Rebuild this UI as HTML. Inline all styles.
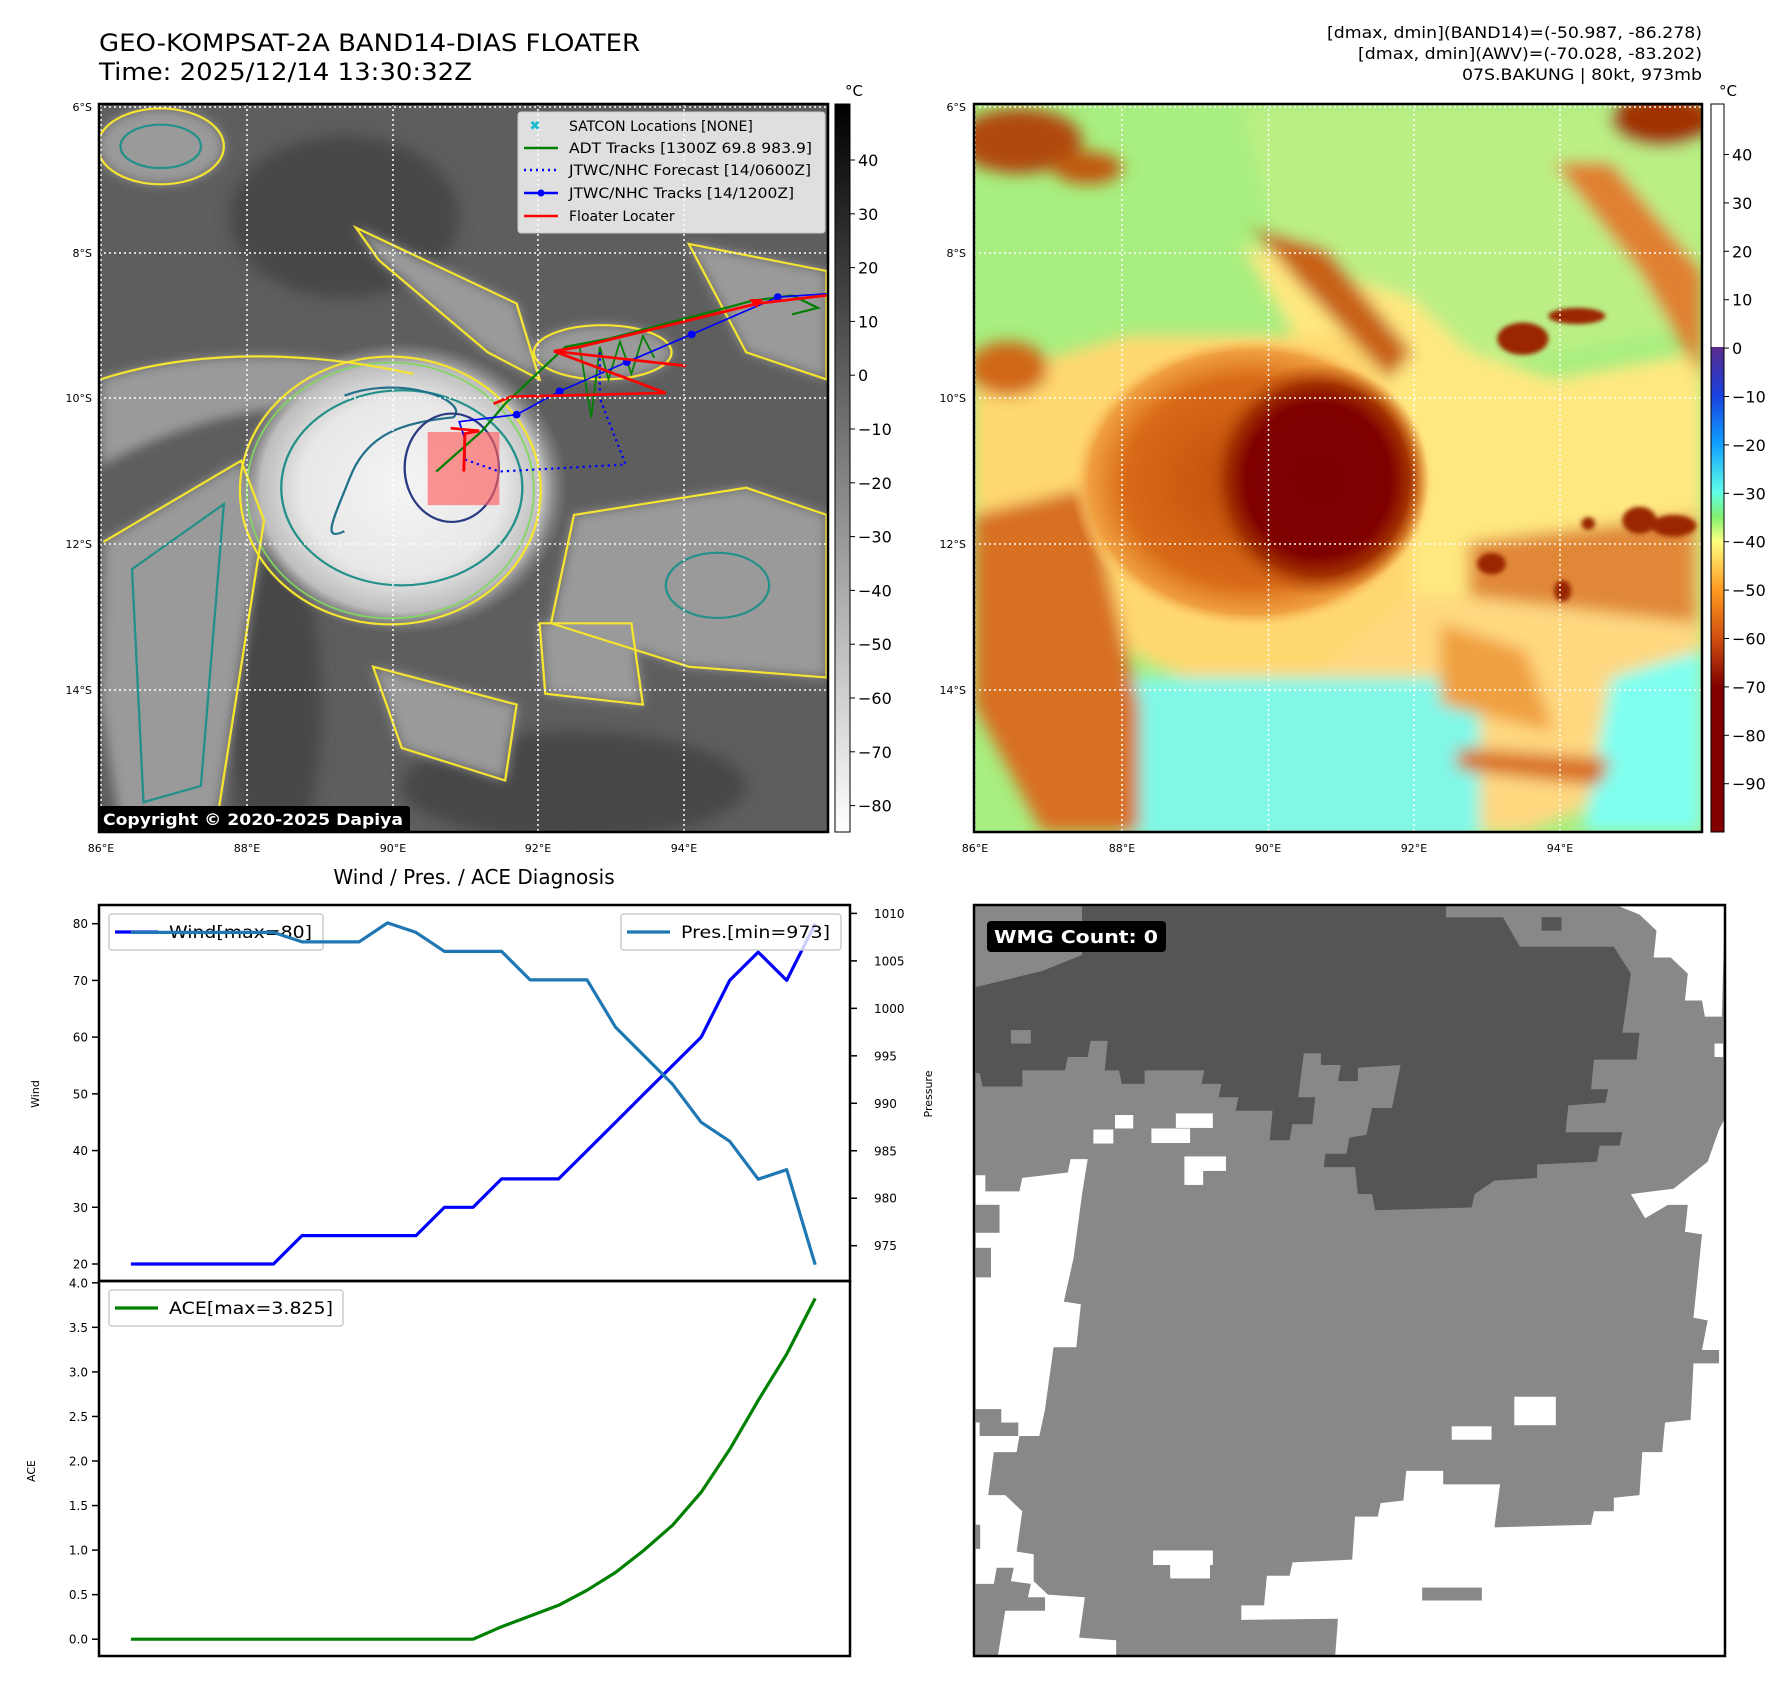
<!DOCTYPE html>
<html><head><meta charset="utf-8">
<style>
html,body{margin:0;padding:0;background:#fff;}
svg{display:block;font-family:"DejaVu Sans","Liberation Sans",sans-serif;}
</style></head>
<body>
<svg id="fig" xmlns="http://www.w3.org/2000/svg" width="1792" height="1693" viewBox="0 0 1792 1693">
<defs>
  <filter id="blur8" x="-20%" y="-20%" width="140%" height="140%"><feGaussianBlur stdDeviation="10"/></filter>
  <filter id="blur14" x="-30%" y="-30%" width="160%" height="160%"><feGaussianBlur stdDeviation="14"/></filter>
  <filter id="blur4"><feGaussianBlur stdDeviation="4"/></filter>
  <radialGradient id="storm" cx="0.5" cy="0.5" r="0.5">
    <stop offset="0" stop-color="#f4f4f4"/><stop offset="0.6" stop-color="#e8e8e8"/><stop offset="0.85" stop-color="#bdbdbd"/><stop offset="1" stop-color="#8a8a8a" stop-opacity="0"/>
  </radialGradient>
  <radialGradient id="redcore" cx="0.5" cy="0.5" r="0.5">
    <stop offset="0" stop-color="#7c0000"/><stop offset="0.65" stop-color="#800000"/><stop offset="0.82" stop-color="#a03000"/><stop offset="1" stop-color="#c05a10" stop-opacity="0"/>
  </radialGradient>
  <radialGradient id="orangedisc" cx="0.5" cy="0.5" r="0.5">
    <stop offset="0" stop-color="#c04a08"/><stop offset="0.7" stop-color="#d86a18"/><stop offset="0.9" stop-color="#f0a040"/><stop offset="1" stop-color="#ffd070" stop-opacity="0"/>
  </radialGradient>
  <linearGradient id="cbGray" x1="0" y1="0" x2="0" y2="1">
    <stop offset="0" stop-color="#000"/><stop offset="1" stop-color="#fff"/>
  </linearGradient>
  <linearGradient id="cbColor" x1="0" y1="0" x2="0" y2="1">
    <stop offset="0" stop-color="#5a2a8a"/>
    <stop offset="0.1" stop-color="#1840e0"/>
    <stop offset="0.2" stop-color="#10a0ff"/>
    <stop offset="0.3" stop-color="#60ffe8"/>
    <stop offset="0.35" stop-color="#80f070"/>
    <stop offset="0.4" stop-color="#ffff80"/>
    <stop offset="0.5" stop-color="#ff9a20"/>
    <stop offset="0.6" stop-color="#d05010"/>
    <stop offset="0.7" stop-color="#800000"/>
    <stop offset="1" stop-color="#800000"/>
  </linearGradient>
  <clipPath id="clipL"><rect x="99" y="104" width="729" height="728"/></clipPath>
  <clipPath id="clipR"><rect x="974" y="104" width="728" height="728"/></clipPath>
  <clipPath id="clipW"><rect x="974" y="905" width="751" height="751"/></clipPath>
</defs>

<!-- Titles -->
<text x="99" y="51" font-size="24" textLength="541" lengthAdjust="spacingAndGlyphs">GEO-KOMPSAT-2A BAND14-DIAS FLOATER</text>
<text x="99" y="80" font-size="24" textLength="373" lengthAdjust="spacingAndGlyphs">Time: 2025/12/14 13:30:32Z</text>
<g font-size="16" text-anchor="end">
  <text x="1702" y="38" textLength="375" lengthAdjust="spacingAndGlyphs">[dmax, dmin](BAND14)=(-50.987, -86.278)</text>
  <text x="1702" y="59" textLength="344" lengthAdjust="spacingAndGlyphs">[dmax, dmin](AWV)=(-70.028, -83.202)</text>
  <text x="1702" y="80" textLength="240" lengthAdjust="spacingAndGlyphs">07S.BAKUNG | 80kt, 973mb</text>
</g>

<!-- LEFT MAP -->
<g clip-path="url(#clipL)">
  <rect x="99" y="104" width="729" height="728" fill="#5e5e5e"/>
  <g transform="scale(0.574,0.542)">
    <g filter="url(#blur14)" fill="#474747">
      <ellipse cx="600" cy="400" rx="200" ry="150"/>
      <ellipse cx="1000" cy="1450" rx="300" ry="100"/>
      <ellipse cx="480" cy="1300" rx="80" ry="300"/>
    </g>
    <g id="cloudShapes" filter="url(#blur8)" fill="#9a9a9a">
      <path d="M180,1000 L420,850 L460,960 L380,1500 L210,1530 L175,1300Z"/>
      <path d="M175,700 C350,640 550,650 720,690 L700,760 C520,730 350,760 175,860Z"/>
      <ellipse cx="280" cy="270" rx="110" ry="70"/>
      <path d="M1000,950 L1300,900 L1440,950 L1440,1250 L1200,1230 L960,1150Z"/>
      <path d="M1200,450 L1440,500 L1440,700 L1300,650Z"/>
      <path d="M620,420 L900,560 L940,700 L850,650 L660,480Z"/>
      <ellipse cx="1050" cy="650" rx="120" ry="50"/>
      <path d="M940,1150 L1100,1150 L1120,1300 L950,1280Z"/>
      <path d="M650,1230 L900,1300 L880,1440 L700,1380Z"/>
    </g>
    <ellipse cx="700" cy="900" rx="290" ry="270" fill="url(#storm)"/>
    <g fill="none" stroke-width="4">
      <ellipse cx="680" cy="905" rx="262" ry="247" stroke="#f5e430"/>
      <ellipse cx="680" cy="905" rx="250" ry="236" stroke="#80d860" stroke-width="3"/>
      <ellipse cx="700" cy="900" rx="210" ry="180" stroke="#23908a"/>
      <path d="M600,730 C700,690 820,740 790,770 C700,780 640,800 610,880 C580,960 560,1000 600,980" stroke="#23708a"/>
      <ellipse cx="787" cy="863" rx="82" ry="100" stroke="#2a3a80"/>
      <path d="M180,1000 L420,850 L460,960 L380,1500 L210,1530" stroke="#f5e430"/>
      <path d="M230,1050 L390,930 L350,1450 L250,1480Z" stroke="#23908a"/>
      <path d="M175,700 C350,640 550,650 720,690" stroke="#f5e430"/>
      <ellipse cx="280" cy="270" rx="110" ry="70" stroke="#f5e430"/>
      <ellipse cx="280" cy="270" rx="70" ry="40" stroke="#23908a"/>
      <path d="M1000,950 L1300,900 L1440,950 L1440,1250 L1200,1230 L960,1150Z" stroke="#f5e430"/>
      <ellipse cx="1250" cy="1080" rx="90" ry="60" stroke="#23908a"/>
      <path d="M1200,450 L1440,500 L1440,700 L1300,650Z" stroke="#f5e430"/>
      <path d="M620,420 L900,560 L940,700 L850,650 L660,480Z" stroke="#f5e430"/>
      <ellipse cx="1050" cy="650" rx="120" ry="50" stroke="#f5e430"/>
      <path d="M940,1150 L1100,1150 L1120,1300 L950,1280Z" stroke="#f5e430"/>
      <path d="M650,1230 L900,1300 L880,1440 L700,1380Z" stroke="#f5e430"/>
    </g>
    <rect x="745" y="797" width="125" height="135" fill="#ff6060" fill-opacity="0.65"/>
    <!-- tracks -->
    <polyline fill="none" stroke="#008000" stroke-width="4" points="760,870 840,795 880,745 940,685 985,640 1060,625 1240,575 1310,555 1380,545 1425,568 1380,580"/>
    <polyline fill="none" stroke="#008000" stroke-width="3" points="1010,640 1030,770 1045,640 1060,700 1080,630 1100,690 1120,620 1140,660"/>
    <polyline fill="none" stroke="#0000ff" stroke-width="4" stroke-dasharray="4,7" points="810,848 870,870 1090,857 1045,735 1045,650"/>
    <polyline fill="none" stroke="#0000ff" stroke-width="3" points="1440,542 1355,548 1205,617 1092,668 975,722 900,765 800,778 810,810 810,848"/>
    <g fill="#0000ff"><circle cx="1355" cy="548" r="7"/><circle cx="1205" cy="617" r="7"/><circle cx="1092" cy="668" r="7"/><circle cx="975" cy="722" r="7"/><circle cx="900" cy="765" r="7"/></g>
    <g fill="none" stroke="#ff0000" stroke-width="5">
      <polyline points="1440,545 1320,560 1010,640 965,648 1195,675"/>
      <polyline points="965,648 1160,725 890,732 860,745"/>
      <polyline points="785,790 835,795 810,800 808,870"/>
    </g>
    <polygon points="1305,552 1330,552 1318,568" fill="#ff0000"/>
  </g>
  <g stroke="#fff" stroke-width="1.5" stroke-dasharray="2,3">
    <line x1="99" y1="107" x2="828" y2="107"/><line x1="99" y1="253" x2="828" y2="253"/><line x1="99" y1="398" x2="828" y2="398"/><line x1="99" y1="544" x2="828" y2="544"/><line x1="99" y1="690" x2="828" y2="690"/>
    <line x1="101" y1="104" x2="101" y2="832"/><line x1="247" y1="104" x2="247" y2="832"/><line x1="393" y1="104" x2="393" y2="832"/><line x1="538" y1="104" x2="538" y2="832"/><line x1="684" y1="104" x2="684" y2="832"/>
  </g>
</g>
<rect x="99" y="104" width="729" height="728" fill="none" stroke="#000" stroke-width="2.5"/>
<g>
  <rect x="518" y="112" width="307" height="121" fill="#fff" fill-opacity="0.8" stroke="#ccc" rx="3"/>
  <g font-size="14">
    <text x="535" y="130" fill="#17becf" font-size="13" text-anchor="middle">✖</text>
    <text x="569" y="131">SATCON Locations [NONE]</text>
    <line x1="524" y1="148" x2="558" y2="148" stroke="#008000" stroke-width="2.5"/>
    <text x="569" y="153" textLength="243" lengthAdjust="spacingAndGlyphs">ADT Tracks [1300Z 69.8 983.9]</text>
    <line x1="524" y1="170" x2="558" y2="170" stroke="#0000ff" stroke-width="2.5" stroke-dasharray="2,4"/>
    <text x="569" y="175" textLength="242" lengthAdjust="spacingAndGlyphs">JTWC/NHC Forecast [14/0600Z]</text>
    <line x1="524" y1="193" x2="558" y2="193" stroke="#0000ff" stroke-width="2.5"/><circle cx="541" cy="193" r="3.5" fill="#0000ff"/>
    <text x="569" y="198" textLength="225" lengthAdjust="spacingAndGlyphs">JTWC/NHC Tracks [14/1200Z]</text>
    <line x1="524" y1="216" x2="558" y2="216" stroke="#ff0000" stroke-width="2.5"/>
    <text x="569" y="221">Floater Locater</text>
  </g>
</g>
<g>
  <rect x="98" y="806" width="312" height="27" rx="3" fill="#000"/>
  <text x="103" y="825" font-size="16" font-weight="bold" fill="#fff" textLength="300" lengthAdjust="spacingAndGlyphs">Copyright © 2020-2025 Dapiya</text>
</g>
<g font-size="11" fill="#000">
  <g text-anchor="end"><text x="92" y="111">6°S</text><text x="92" y="257">8°S</text><text x="92" y="402">10°S</text><text x="92" y="548">12°S</text><text x="92" y="694">14°S</text></g>
  <g text-anchor="middle"><text x="101" y="852">86°E</text><text x="247" y="852">88°E</text><text x="393" y="852">90°E</text><text x="538" y="852">92°E</text><text x="684" y="852">94°E</text></g>
</g>
<g>
  <rect x="835" y="104" width="15" height="728" fill="url(#cbGray)" stroke="#000" stroke-width="1"/>
  <text x="845" y="96" font-size="15">°C</text>
  <g id="cbLticks" font-size="16"></g>
</g>

<!-- RIGHT MAP -->
<g clip-path="url(#clipR)">
  <rect x="974" y="104" width="728" height="728" fill="#a8ee80"/>
  <g transform="translate(900,0) scale(0.5688,0.542)">
    <g filter="url(#blur14)">
      <path d="M130,200 L600,200 L700,600 L900,700 L1410,600 L1410,200 Z" fill="#c8f088" opacity="0.6"/>
      <path d="M600,450 L900,550 L1000,650 L1150,700 L1410,650 L1410,1300 L1200,1250 L900,1200 L850,900 Z" fill="#ffe880"/>
      <path d="M130,700 L400,620 L800,620 L900,800 L900,1200 L700,1300 L500,1250 L400,1200 L130,1100Z" fill="#ffd870"/>
      <path d="M900,1100 L1410,1100 L1410,1300 L1300,1450 L1100,1535 L700,1535 L600,1350Z" fill="#ffd880"/>
      <rect x="400" y="1250" width="620" height="300" fill="#80f8e8"/>
      <path d="M1250,1250 L1410,1200 L1410,1535 L1200,1535Z" fill="#80fff0"/>
      <path d="M130,950 L330,900 L420,1300 L420,1535 L250,1535 L130,1300Z" fill="#d87020"/>
      <path d="M620,420 L750,460 L900,650 L860,700 L700,520Z" fill="#c86018"/>
      <ellipse cx="210" cy="260" rx="110" ry="60" fill="#b04808"/>
      <ellipse cx="330" cy="310" rx="60" ry="30" fill="#c05a10"/>
      <path d="M1150,300 L1300,500 L1410,700 L1410,500 L1250,300Z" fill="#e08030"/>
      <ellipse cx="1340" cy="220" rx="90" ry="50" fill="#a03000"/>
      <path d="M1000,1000 L1400,950 L1400,1150 L1000,1100Z" fill="#e08838"/>
      <ellipse cx="190" cy="680" rx="70" ry="50" fill="#d06818"/>
      <path d="M950,1150 L1100,1200 L1150,1350 L950,1300Z" fill="#f0a040"/>
      <path d="M980,1380 L1250,1400 L1230,1450 L980,1420Z" fill="#d87020"/>
    </g>
    <ellipse cx="620" cy="890" rx="320" ry="270" fill="url(#orangedisc)"/>
    <ellipse cx="735" cy="885" rx="195" ry="215" fill="url(#redcore)"/>
    <g fill="#9a2800" filter="url(#blur4)">
      <ellipse cx="1095" cy="625" rx="45" ry="30"/><ellipse cx="1190" cy="583" rx="50" ry="15"/>
      <ellipse cx="1300" cy="960" rx="30" ry="25"/><ellipse cx="1210" cy="966" rx="12" ry="12"/>
      <ellipse cx="1165" cy="1090" rx="15" ry="20"/><ellipse cx="1040" cy="1040" rx="25" ry="20"/>
      <ellipse cx="1360" cy="970" rx="40" ry="20"/>
    </g>
  </g>
  <g stroke="#fff" stroke-width="1.5" stroke-dasharray="2,3">
    <line x1="974" y1="107" x2="1702" y2="107"/><line x1="974" y1="253" x2="1702" y2="253"/><line x1="974" y1="398" x2="1702" y2="398"/><line x1="974" y1="544" x2="1702" y2="544"/><line x1="974" y1="690" x2="1702" y2="690"/>
    <line x1="975" y1="104" x2="975" y2="832"/><line x1="1122" y1="104" x2="1122" y2="832"/><line x1="1268.5" y1="104" x2="1268.5" y2="832"/><line x1="1414" y1="104" x2="1414" y2="832"/><line x1="1560" y1="104" x2="1560" y2="832"/>
  </g>
</g>
<rect x="974" y="104" width="728" height="728" fill="none" stroke="#000" stroke-width="2.5"/>
<g font-size="11" fill="#000">
  <g text-anchor="end"><text x="966" y="111">6°S</text><text x="966" y="257">8°S</text><text x="966" y="402">10°S</text><text x="966" y="548">12°S</text><text x="966" y="694">14°S</text></g>
  <g text-anchor="middle"><text x="975" y="852">86°E</text><text x="1122" y="852">88°E</text><text x="1268" y="852">90°E</text><text x="1414" y="852">92°E</text><text x="1560" y="852">94°E</text></g>
</g>
<g>
  <rect x="1711" y="104" width="13" height="243" fill="#fff"/>
  <rect x="1711" y="347" width="13" height="485" fill="url(#cbColor)"/>
  <rect x="1711" y="104" width="13" height="728" fill="none" stroke="#000" stroke-width="1"/>
  <text x="1719" y="96" font-size="15">°C</text>
  <g id="cbRticks" font-size="16"></g>
</g>

<!-- WIND / PRES / ACE -->
<text x="474" y="884" font-size="20" text-anchor="middle">Wind / Pres. / ACE Diagnosis</text>
<g id="diag"></g>

<!-- WMG panel -->
<g clip-path="url(#clipW)">
  <rect x="974" y="905" width="751" height="751" fill="#888"/>
  <g transform="translate(900,850) scale(0.5688,0.5376)">
    <path fill="#555" d="M133,255 L250,225 L320,195 L320,105 L960,105 L960,125 L1060,125 L1090,180 L1255,180 L1285,230 L1270,340 L1300,340 L1295,390 L1220,390 L1215,445 L1245,445 L1240,470 L1175,475 L1170,525 L1270,525 L1265,550 L1230,550 L1225,580 L1120,585 L1120,610 L1045,615 L1010,640 L1005,665 L835,670 L830,640 L805,640 L800,590 L745,590 L748,565 L785,565 L790,535 L820,530 L830,480 L865,480 L880,400 L805,405 L805,430 L770,430 L775,400 L740,400 L740,378 L710,378 L700,460 L730,460 L725,510 L690,510 L685,540 L650,540 L655,485 L590,485 L595,460 L560,460 L565,435 L530,435 L535,410 L430,410 L430,435 L390,435 L385,410 L360,410 L365,355 L335,355 L330,385 L295,385 L290,410 L215,410 L215,440 L145,440 L140,415 L133,415Z"/>
    <rect x="195" y="335" width="35" height="25" fill="#888"/>
    <rect x="1128" y="125" width="35" height="25" fill="#555"/>
    <g fill="#fff">
      <path d="M1265,105 L1300,120 L1330,150 L1325,200 L1355,200 L1385,230 L1380,280 L1410,280 L1415,310 L1445,310 L1450,105Z"/>
      <path d="M1450,500 L1440,520 L1420,580 L1360,630 L1285,640 L1310,685 L1350,660 L1385,660 L1380,710 L1410,715 L1395,870 L1420,875 L1410,930 L1440,930 L1440,955 L1395,955 L1390,1060 L1345,1065 L1340,1120 L1305,1120 L1300,1200 L1255,1205 L1255,1230 L1220,1230 L1215,1255 L1045,1260 L1055,1180 L955,1180 L955,1155 L890,1155 L885,1210 L845,1215 L840,1240 L800,1240 L795,1320 L690,1325 L685,1350 L645,1350 L640,1405 L600,1405 L600,1432 L770,1430 L765,1500 L1452,1500 L1452,500Z"/>
      <path d="M133,605 L150,605 L150,635 L210,635 L215,610 L295,600 L300,575 L330,575 L320,640 L305,760 L288,840 L318,845 L310,925 L270,925 L255,1040 L245,1090 L210,1090 L205,1120 L165,1120 L155,1200 L185,1200 L215,1230 L205,1305 L235,1310 L235,1360 L260,1385 L325,1390 L315,1465 L380,1470 L380,1500 L133,1500Z"/>
      <rect x="340" y="520" width="35" height="26"/><rect x="378" y="493" width="32" height="25"/>
      <rect x="442" y="518" width="68" height="27"/><rect x="485" y="490" width="65" height="27"/>
      <rect x="500" y="570" width="73" height="27"/><rect x="500" y="595" width="33" height="28"/>
      <rect x="1080" y="1017" width="73" height="53"/><rect x="970" y="1072" width="70" height="25"/>
      <rect x="445" y="1303" width="105" height="27"/><rect x="475" y="1328" width="70" height="27"/>
      <rect x="1432" y="360" width="15" height="25"/>
    </g>
    <g fill="#888">
      <rect x="133" y="660" width="42" height="52"/><rect x="133" y="740" width="27" height="55"/>
      <rect x="133" y="1040" width="45" height="25"/><rect x="140" y="1065" width="68" height="25"/>
      <rect x="133" y="1255" width="8" height="45"/>
      <path d="M133,1365 L165,1365 L170,1335 L200,1335 L195,1360 L230,1365 L225,1390 L255,1390 L255,1415 L185,1415 L172,1500 L133,1500Z"/>
      <rect x="918" y="1372" width="105" height="24"/>
    </g>
  </g>
</g>
<rect x="974" y="905" width="751" height="751" fill="none" stroke="#000" stroke-width="2.5"/>
<g>
  <rect x="987" y="921" width="179" height="31" rx="4" fill="#000"/>
  <text x="994" y="943" font-size="18" font-weight="bold" fill="#fff" textLength="164" lengthAdjust="spacingAndGlyphs">WMG Count: 0</text>
</g>

<script>
// ---- Diagnosis chart data ----
const steps = [0,1,2,3,4,5,6,7,8,9,10,11,12,13,14,15,16,17,18,19,20,21,22,23,24];
const winds = [20,20,20,20,20,20,25,25,25,25,25,30,30,35,35,35,40,45,50,55,60,70,75,70,80];
const pressures = [1008,1008,1008,1008,1008,1008,1007,1007,1007,1009,1008,1006,1006,1006,1003,1003,1003,998,995,992,988,986,982,983,973];
const aces = [0,0,0,0,0,0,0,0,0,0,0,0,0,0.14,0.26,0.38,0.55,0.75,1.0,1.28,1.65,2.13,2.68,3.2,3.825];
const windTicks = [20,30,40,50,60,70,80];
const presTicks = [975,980,985,990,995,1000,1005,1010];
const aceTicks = [0,0.5,1,1.5,2,2.5,3,3.5,4];
const grayTicks = [40,30,20,10,0,-10,-20,-30,-40,-50,-60,-70,-80];
const colorTicks = [40,30,20,10,0,-10,-20,-30,-40,-50,-60,-70,-80,-90];

const NS = 'http://www.w3.org/2000/svg';
function mk(tag, attrs, parent){ const e=document.createElementNS(NS,tag); for(const k in attrs) e.setAttribute(k,attrs[k]); parent.appendChild(e); return e; }
function fmt(v){ return (v<0?'\u2212':'')+Math.abs(v); }

const xs = i => 130.9 + i*(815.2-130.9)/(steps.length-1);
const yW = v => 1264 - (v-20)*(1264-923.7)/60;
const yP = v => 1245.7 - (v-975)*(1245.7-913.4)/35;
const yA = v => 1639.2 - v*(1639.2-1282.8)/4;
const yG = v => 160 + (40-v)*5.38;
const yC = v => 154.5 + (40-v)*4.84;

const diag = document.getElementById('diag');
const f1 = mk('rect',{x:99,y:905,width:751,height:376,fill:'none',stroke:'#000','stroke-width':2.5},diag);


const f2 = mk('rect',{x:99,y:1281,width:751,height:375,fill:'none',stroke:'#000','stroke-width':2.5},diag);



function tickL(v, y, label, name){
  mk('line',{x1:92,y1:y,x2:99,y2:y,stroke:'#000','stroke-width':1.5},diag);
  const t = mk('text',{x:88,y:y+4.5,'font-size':12,'text-anchor':'end'},diag);
  
  
  t.textContent = label;
}
windTicks.forEach(v=>tickL(v,yW(v),String(v),'wind-tick-label'));
aceTicks.forEach(v=>tickL(v,yA(v),v.toFixed(1),'ace-tick-label'));
presTicks.forEach(v=>{
  const y=yP(v);
  mk('line',{x1:850,y1:y,x2:857,y2:y,stroke:'#000','stroke-width':1.5},diag);
  const t=mk('text',{x:874,y:y+4.5,'font-size':12},diag);
  
  
  t.textContent=String(v);
});
function vlabel(x,y,s,name){
  const t=mk('text',{x:x,y:y,'font-size':11,'text-anchor':'middle',transform:`rotate(-90 ${x} ${y})`},diag);
  
  
  t.textContent=s;
}
vlabel(39,1094,'Wind','wind-axis-title');
vlabel(35,1471,'ACE','ace-axis-title');
vlabel(932,1094,'Pressure','pressure-axis-title');

function line(arr, yf, color, name){
  const pts = arr.map((v,i)=>xs(i).toFixed(1)+','+yf(v).toFixed(1)).join(' ');
  const p = mk('polyline',{points:pts,fill:'none',stroke:color,'stroke-width':3.2,'stroke-linejoin':'round'},diag);
  
  
}
function legend(x,y,w,color,label,name,tl){
  const g = mk('g',{},diag);
  
  
  mk('rect',{x:x,y:y,width:w,height:36,rx:3,fill:'#fff','fill-opacity':0.8,stroke:'#ccc','stroke-width':1.5},g);
  mk('line',{x1:x+6,y1:y+18,x2:x+49,y2:y+18,stroke:color,'stroke-width':3.2},g);
  const t=mk('text',{x:x+60,y:y+24,'font-size':17,textLength:tl,lengthAdjust:'spacingAndGlyphs'},g);
  t.textContent=label;
}
line(winds,yW,'#0000ff','wind-line');
legend(109,914,214,'#0000ff','Wind[max=80]','wind-legend',143);
line(pressures,yP,'#1f77b4','pressure-line');
legend(621,914,220,'#1f77b4','Pres.[min=973]','pressure-legend',149);
line(aces,yA,'#008000','ace-line');
legend(109,1290,234,'#008000','ACE[max=3.825]','ace-legend',164);

const gL = document.getElementById('cbLticks');
grayTicks.forEach(v=>{
  const y=yG(v);
  mk('line',{x1:850,y1:y,x2:855,y2:y,stroke:'#000'},gL);
  const t=mk('text',{x:858,y:y+6},gL);
  
  
  t.textContent=fmt(v);
});
const gR = document.getElementById('cbRticks');
colorTicks.forEach(v=>{
  const y=yC(v);
  mk('line',{x1:1724,y1:y,x2:1729,y2:y,stroke:'#000'},gR);
  const t=mk('text',{x:1732,y:y+6},gR);
  
  
  t.textContent=fmt(v);
});
</script>
</svg>
</body></html>
